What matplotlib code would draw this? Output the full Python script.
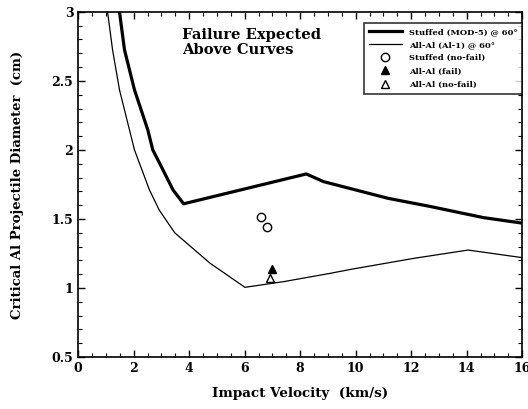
import matplotlib
matplotlib.use("Agg")
import matplotlib.pyplot as plt
from matplotlib.ticker import MultipleLocator

# Stuffed (MOD-5) @ 60 deg ballistic limit curve
stuffed_v = [1.49, 1.67, 2.03, 2.27, 2.51, 2.69, 2.97, 3.42, 3.8, 8.22, 8.85, 11.16, 12.7, 14.6, 16.0]
stuffed_d = [3.0, 2.725, 2.435, 2.29, 2.145, 2.0, 1.89, 1.71, 1.61, 1.826, 1.77, 1.65, 1.59, 1.51, 1.47]

# All-Al (Al-1) @ 60 deg ballistic limit curve
allal_v = [1.06, 1.24, 1.49, 2.03, 2.57, 2.92, 3.48, 4.75, 6.01, 7.4, 9.1, 9.82, 12.1, 14.05, 16.0]
allal_d = [3.0, 2.725, 2.435, 2.0, 1.71, 1.565, 1.40, 1.18, 1.005, 1.046, 1.107, 1.135, 1.215, 1.275, 1.22]

# Test points
stuffed_nofail_v = [6.59, 6.8]
stuffed_nofail_d = [1.517, 1.44]
allal_fail_v = [6.98]
allal_fail_d = [1.138]
allal_nofail_v = [6.92]
allal_nofail_d = [1.07]

plt.rcParams['font.family'] = ['DejaVu Serif']
plt.rcParams['font.weight'] = 'bold'

fig = plt.figure(figsize=(5.28, 4.09), dpi=100)
ax = fig.add_axes([0.148, 0.127, 0.841, 0.844])

ax.plot(stuffed_v, stuffed_d, color='black', lw=2.3, label='Stuffed (MOD-5) @ 60°')
ax.plot(allal_v, allal_d, color='black', lw=0.9, label='All-Al (Al-1) @ 60°')
ax.plot(stuffed_nofail_v, stuffed_nofail_d, 'o', mfc='white', mec='black', mew=1.0, ms=6, ls='none', label='Stuffed (no-fail)')
ax.plot(allal_fail_v, allal_fail_d, '^', mfc='black', mec='black', ms=5.5, ls='none', label='All-Al (fail)')
ax.plot(allal_nofail_v, allal_nofail_d, '^', mfc='white', mec='black', mew=1.0, ms=5.5, ls='none', label='All-Al (no-fail)')

ax.set_xlim(0, 16)
ax.set_ylim(0.5, 3)
ax.xaxis.set_major_locator(MultipleLocator(2))
ax.xaxis.set_minor_locator(MultipleLocator(0.5))
ax.yaxis.set_major_locator(MultipleLocator(0.5))
ax.yaxis.set_minor_locator(MultipleLocator(0.1))
ax.tick_params(which='both', direction='in', top=True, right=True, labelsize=9)
ax.tick_params(which='major', length=5, width=1)
ax.tick_params(which='minor', length=3, width=0.8)
ax.set_yticks([0.5, 1, 1.5, 2, 2.5, 3])
ax.set_yticklabels(['0.5', '1', '1.5', '2', '2.5', '3'])
for s in ax.spines.values():
    s.set_linewidth(1.2)

ax.set_xlabel('Impact Velocity  (km/s)', fontsize=9.7, fontweight='bold', labelpad=9)
ax.set_ylabel('Critical Al Projectile Diameter  (cm)', fontsize=9.5, fontweight='bold', labelpad=20)

ax.text(3.73, 2.88, 'Failure Expected\nAbove Curves', fontsize=10.6, fontweight='bold',
        va='top', ha='left', linespacing=1.05)

leg = ax.legend(loc='upper right', bbox_to_anchor=(1.0, 0.968), fontsize=6, frameon=True,
                fancybox=False, edgecolor='black', handlelength=4.0, handletextpad=0.8,
                borderpad=0.6, labelspacing=0.62, borderaxespad=0.0)
leg.get_frame().set_linewidth(1.2)

fig.savefig('out.png', dpi=100)
